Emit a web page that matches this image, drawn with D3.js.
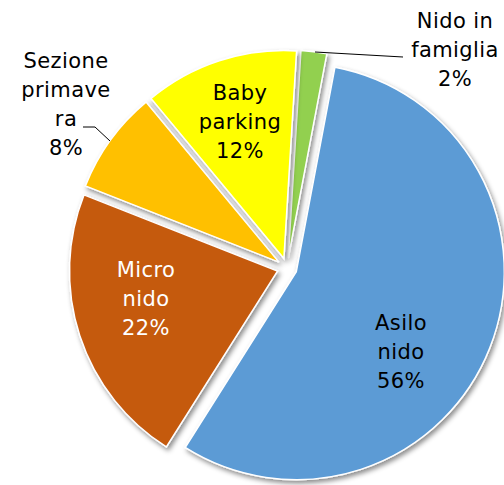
<!DOCTYPE html>
<html>
<head>
<meta charset="utf-8">
<script src="https://cdn.jsdelivr.net/npm/d3@7"></script>
<style>
 body { margin: 0; background: #fff; }
 svg { display: block; }
 text { font-family: "DejaVu Sans", sans-serif; font-size: 21px; letter-spacing: 0.4px; }
</style>
</head>
<body>
<svg width="504" height="485"></svg>
<script>
// Data, in clockwise order from the top.

var categories = ['Nido in famiglia', 'Asilo nido', 'Micro nido', 'Sezione primavera', 'Baby parking'];
var values = [2, 56, 22, 8, 12];
var colors = ['#92d050', '#5b9bd5', '#c55a11', '#ffc000', '#ffff00'];
var labelLines = [['Nido in', 'famiglia', '2%'], ['Asilo', 'nido', '56%'], ['Micro', 'nido', '22%'], ['Sezione', 'primave', 'ra', '8%'], ['Baby', 'parking', '12%']];

// Layout.

var svg = d3.select('svg');
var cx = 287, cy = 268, radius = 208, explode = 10;
var start = 3.5 * Math.PI / 180;
var lineH = 29;

var labelPos = {
 'Nido in famiglia': [455, 28, '#000'],
 'Asilo nido': [401, 330, '#000'],
 'Micro nido': [146, 277, '#fff'],
 'Sezione primavera': [66, 68, '#000'],
 'Baby parking': [240, 100, '#000']
};

var defs = svg.append('defs');
var shadow = defs.append('filter').attr('id', 'shadow')
 .attr('x', '-20%').attr('y', '-20%').attr('width', '140%').attr('height', '140%');
shadow.append('feDropShadow')
 .attr('dx', 2).attr('dy', 3).attr('stdDeviation', 2.5)
 .attr('flood-color', '#000').attr('flood-opacity', 0.45);

var data = categories.map(function(c, i) { return {name: c, value: values[i], color: colors[i], lines: labelLines[i]}; });

var pie = d3.pie().sort(null).value(function(d) { return d.value; })
 .startAngle(start).endAngle(start + 2 * Math.PI);
var arc = d3.arc().innerRadius(0).outerRadius(radius);

var graphic = svg.append('g').attr('transform', 'translate(' + cx + ',' + cy + ')');

// Draw the exploded slices.

graphic.selectAll('path')
 .data(pie(data))
 .enter().append('path')
 .attr('transform', function(d) {
  var a = (d.startAngle + d.endAngle) / 2;
  return 'translate(' + (explode * Math.sin(a)) + ',' + (-explode * Math.cos(a)) + ')';
 })
 .attr('d', arc)
 .attr('fill', function(d) { return d.data.color; })
 .attr('stroke', '#fff')
 .attr('stroke-width', 1.5)
 .attr('filter', 'url(#shadow)');

// Leader lines.

svg.append('path')
 .attr('d', 'M315,52L403,57')
 .attr('fill', 'none').attr('stroke', '#000').attr('stroke-width', 1);
svg.append('path')
 .attr('d', 'M83,127L95,127L110,141')
 .attr('fill', 'none').attr('stroke', '#000').attr('stroke-width', 1);

// Labels.

var labels = svg.append('g').selectAll('text')
 .data(data)
 .enter().append('text')
 .attr('text-anchor', 'middle')
 .attr('fill', function(d) { return labelPos[d.name][2]; })
 .attr('transform', function(d) { return 'translate(' + labelPos[d.name][0] + ',' + labelPos[d.name][1] + ')'; });

labels.selectAll('tspan')
 .data(function(d) { return d.lines; })
 .enter().append('tspan')
 .attr('x', 0)
 .attr('y', function(d, i) { return i * lineH; })
 .text(function(d) { return d; });
</script>
</body>
</html>
